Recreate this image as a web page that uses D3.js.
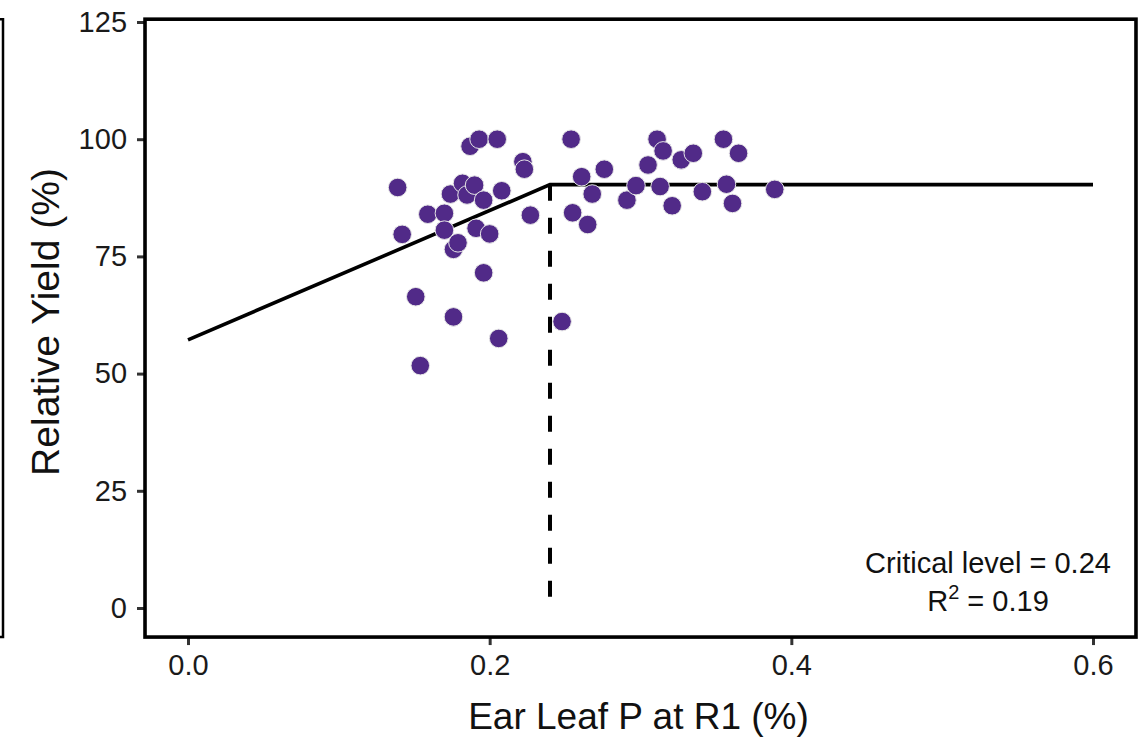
<!DOCTYPE html>
<html>
<head>
<meta charset="utf-8">
<script src="https://cdn.jsdelivr.net/npm/d3@7"></script>
<style>
html,body{margin:0;padding:0;background:#fff;}
svg{display:block;font-family:"Liberation Sans",Arial,Helvetica,sans-serif;}
</style>
</head>
<body>
<svg id="chart" width="1138" height="738"></svg>
<script>
// ---- data ----
const earLeafP = [0.139,0.142,0.151,0.154,0.159,0.170,0.170,0.174,0.176,0.176,0.179,0.182,0.185,0.187,0.190,0.191,0.193,0.196,0.196,0.200,0.205,0.206,0.208,0.222,0.223,0.227,0.248,0.254,0.255,0.261,0.265,0.268,0.276,0.291,0.297,0.305,0.311,0.313,0.315,0.321,0.327,0.335,0.341,0.355,0.357,0.361,0.365,0.389];
const relYield = [89.7,79.7,66.4,51.7,84.0,84.2,80.6,88.3,62.1,76.5,77.9,90.6,88.1,98.5,90.2,81.0,100.0,87.0,71.5,79.8,100.0,57.5,89.0,95.2,93.6,83.8,61.1,100.0,84.3,92.0,81.8,88.3,93.6,87.0,90.1,94.5,100.0,89.9,97.5,85.8,95.6,97.0,88.8,100.0,90.4,86.3,97.0,89.3];
const fitX = [0, 0.24, 0.6];
const fitY = [57.2, 90.3, 90.3];
const criticalLevel = 0.24;
const xTicks = [0.0, 0.2, 0.4, 0.6];
const xTickLabels = ["0.0","0.2","0.4","0.6"];
const yTicks = [0, 25, 50, 75, 100, 125];
const yTickLabels = ["0","25","50","75","100","125"];
const xTitle = "Ear Leaf P at R1 (%)";
const yTitle = "Relative Yield (%)";
const annot1 = "Critical level = 0.24";
const annotR2 = "0.19";

// ---- layout ----
const svg = d3.select("#chart");
const x = d3.scaleLinear().domain([0, 0.6]).range([188, 1093]);
const y = d3.scaleLinear().domain([0, 125]).range([608, 22]);
const xLim = [-0.0285, 0.6285];
const yLim = [-6.2, 125.6];
const L = x(xLim[0]), R = x(xLim[1]), T = y(yLim[1]), B = y(yLim[0]);

// stray border of neighbouring panel
svg.append("path").attr("d", `M0,${T} H3 V${B} H0`).attr("fill","none")
  .attr("stroke","#000").attr("stroke-width",2.5);

// ticks
const gx = svg.append("g").attr("transform", `translate(0,${B})`)
  .call(d3.axisBottom(x).tickValues(xTicks).tickFormat((d,i)=>xTickLabels[i]).tickSize(8).tickPadding(9));
const gy = svg.append("g").attr("transform", `translate(${L},0)`)
  .call(d3.axisLeft(y).tickValues(yTicks).tickFormat((d,i)=>yTickLabels[i]).tickSize(8).tickPadding(10));
[gx, gy].forEach(g => {
  g.select(".domain").remove();
  g.selectAll(".tick line").attr("stroke","#333").attr("stroke-width",3);
  g.selectAll(".tick text").attr("fill","#1a1a1a").style("font-family",'"Liberation Sans",Arial,sans-serif');
});
gx.selectAll(".tick text").attr("font-size",29);
gy.selectAll(".tick text").attr("font-size",29);

// fitted line
const line = d3.line().x((d,i)=>x(fitX[i])).y((d,i)=>y(fitY[i]));
svg.append("path").datum(fitX).attr("d", line).attr("fill","none")
  .attr("stroke","#000").attr("stroke-width",3.6);
// critical level dashed
svg.append("line").attr("x1",x(criticalLevel)).attr("x2",x(criticalLevel))
  .attr("y1",y(fitY[1])).attr("y2",y(0)).attr("stroke","#000").attr("stroke-width",4)
  .attr("stroke-dasharray","16,17");

// points
svg.append("g").selectAll("circle").data(earLeafP).join("circle")
  .attr("cx",(d)=>x(d)).attr("cy",(d,i)=>y(relYield[i])).attr("r",9.3)
  .attr("fill","#512a88").attr("stroke","#e6e6e6").attr("stroke-width",1);

// panel border
svg.append("rect").attr("x",L).attr("y",T).attr("width",R-L).attr("height",B-T)
  .attr("fill","none").attr("stroke","#000").attr("stroke-width",3.6);

// annotation
const ax = 988;
svg.append("text").attr("x",ax).attr("y",573).attr("text-anchor","middle")
  .attr("font-size",29).attr("fill","#111").text(annot1);
const t2 = svg.append("text").attr("x",ax).attr("y",611).attr("text-anchor","middle")
  .attr("font-size",29).attr("fill","#111");
t2.append("tspan").text("R");
t2.append("tspan").attr("dy",-12).attr("font-size",20).text("2");
t2.append("tspan").attr("dy",12).text(" = " + annotR2);

// axis titles
svg.append("text").attr("x",(L+R)/2 - 2).attr("y",729).attr("text-anchor","middle")
  .attr("font-size",37).attr("fill","#111").text(xTitle);
svg.append("text").attr("transform",`translate(59,322) rotate(-90)`)
  .attr("text-anchor","middle").attr("font-size",39).attr("fill","#111").text(yTitle);
</script>
</body>
</html>
